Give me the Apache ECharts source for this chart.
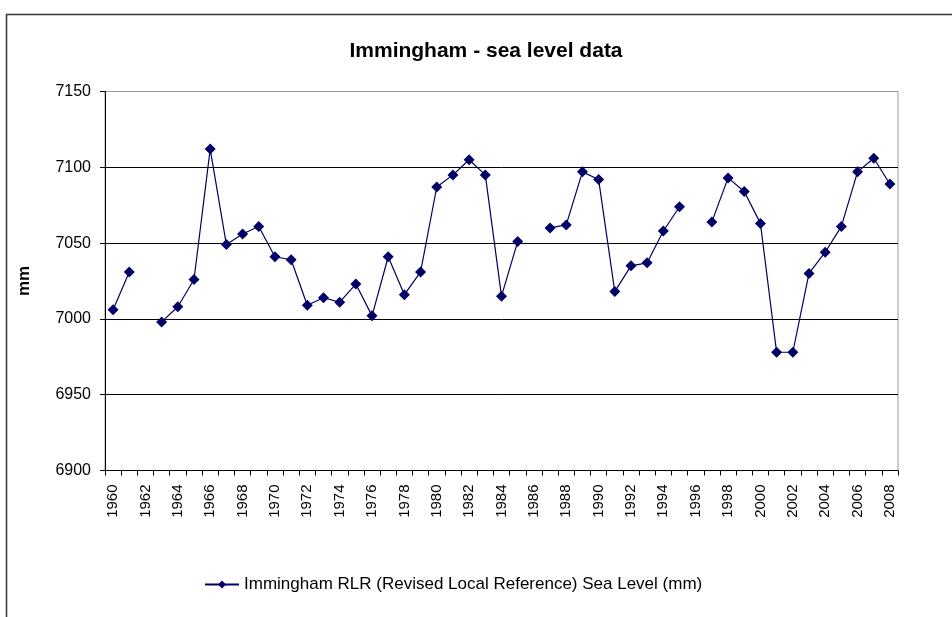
<!DOCTYPE html>
<html>
<head>
<meta charset="utf-8">
<script src="https://cdn.jsdelivr.net/npm/echarts@6/dist/echarts.min.js"></script>
<style>
html,body{margin:0;padding:0;background:#fff;}
#chart{width:952px;height:617px;}
</style>
</head>
<body>
<div id="chart"></div>
<script>
const years = ["1960","1961","1962","1963","1964","1965","1966","1967","1968","1969",
  "1970","1971","1972","1973","1974","1975","1976","1977","1978","1979",
  "1980","1981","1982","1983","1984","1985","1986","1987","1988","1989",
  "1990","1991","1992","1993","1994","1995","1996","1997","1998","1999",
  "2000","2001","2002","2003","2004","2005","2006","2007","2008"];
const seaLevel = [7006,7031,null,6998,7008,7026,7112,7049,7056,7061,
  7041,7039,7009,7014,7011,7023,7002,7041,7016,7031,
  7087,7095,7105,7095,7015,7051,null,7060,7062,7097,
  7092,7018,7035,7037,7058,7074,null,7064,7093,7084,
  7063,6978,6978,7030,7044,7061,7097,7106,7089];
const seriesName = "Immingham RLR (Revised Local Reference) Sea Level (mm)";
const titleText = "Immingham - sea level data";
const yMin = 6900, yMax = 7150, yStep = 50;

const FONT = "'Liberation Sans', Arial, sans-serif";
const chart = echarts.init(document.getElementById('chart'), null, {renderer:'canvas'});
chart.setOption({
  backgroundColor:'#fff',
  animation:false,
  graphic:[{
    type:'rect', left:4, top:12, silent:true,
    shape:{x:0,y:0,width:1000,height:700},
    style:{fill:'none', stroke:'#333', lineWidth:1.5}
  }],
  title:{
    text:titleText, left:481, top:36, textAlign:'center',
    textStyle:{fontFamily:FONT, fontSize:21, fontWeight:'bold', color:'#000'}
  },
  legend:{
    data:[seriesName], left:199, top:571, itemWidth:34, itemHeight:10, itemGap:3,
    textStyle:{fontFamily:FONT, fontSize:17, color:'#000'}
  },
  grid:{left:105, right:54, top:91.5, bottom:146.5, show:true, borderColor:'#999', borderWidth:1},
  xAxis:{
    type:'category', data:years, boundaryGap:true,
    axisLine:{lineStyle:{color:'#000', width:1}},
    axisTick:{show:true, interval:0, length:5, lineStyle:{color:'#000'}},
    axisLabel:{interval:1, rotate:90, margin:14, color:'#000', fontFamily:FONT, fontSize:15},
    splitLine:{show:false}
  },
  yAxis:{
    type:'value', min:yMin, max:yMax, interval:yStep,
    name:'mm', nameLocation:'middle', nameGap:72, nameRotate:90,
    nameTextStyle:{fontFamily:FONT, fontSize:17, fontWeight:'bold', color:'#000'},
    axisLine:{show:true, lineStyle:{color:'#000', width:1}},
    axisTick:{show:true, length:5, lineStyle:{color:'#000'}},
    axisLabel:{margin:14, color:'#000', fontFamily:FONT, fontSize:16, formatter:function(v){return String(v);}},
    splitLine:{show:true, lineStyle:{color:['#000','#000','#000','#000','#000','#999'], width:1}}
  },
  series:[{
    name:seriesName, type:'line', data:seaLevel, connectNulls:false,
    symbol:'diamond', symbolSize:11, showAllSymbol:true,
    itemStyle:{color:'#000066'},
    lineStyle:{color:'#000066', width:1.2}
  }]
});
</script>
</body>
</html>
